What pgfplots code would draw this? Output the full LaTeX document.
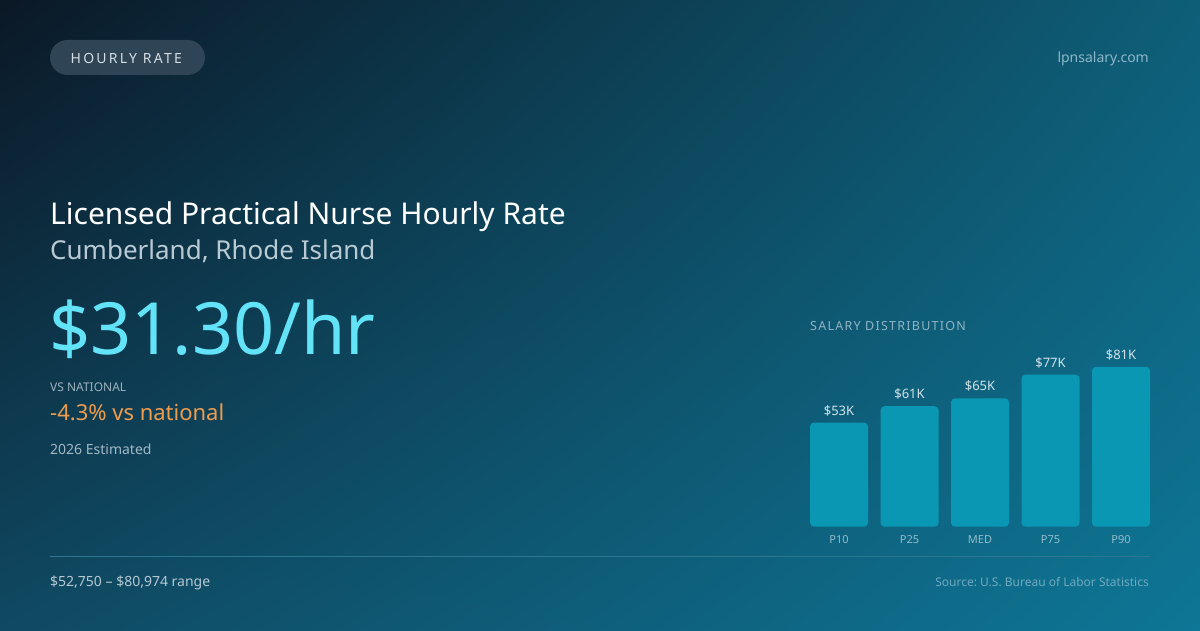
\documentclass[border=0pt]{standalone}
\usepackage{pgfplots}
\pgfplotsset{compat=1.18}
\usetikzlibrary{shadings}
\usepackage{fontspec}
\setmainfont{Noto Sans}
\newfontfamily\spaced[LetterSpace=16]{Noto Sans}
\newfontfamily\spacedsm[LetterSpace=10]{Noto Sans}
\frenchspacing

\definecolor{bgTL}{HTML}{0B1826}
\definecolor{bgTR}{HTML}{0E5E78}
\definecolor{bgBL}{HTML}{0F4962}
\definecolor{bgBR}{HTML}{0E7696}
\definecolor{pill}{HTML}{2F4454}
\definecolor{pilltext}{HTML}{D3DEE6}
\definecolor{site}{HTML}{8DB7C9}
\definecolor{subt}{HTML}{B9CAD5}
\definecolor{bignum}{HTML}{62E3F7}
\definecolor{smalllab}{HTML}{9DB2C0}
\definecolor{orangetxt}{HTML}{EE9C4E}
\definecolor{estim}{HTML}{A3B8C5}
\definecolor{rule}{HTML}{2D7690}
\definecolor{rangetxt}{HTML}{B5C8D3}
\definecolor{source}{HTML}{6FA9C0}
\definecolor{distlab}{HTML}{90B4C4}
\definecolor{barc}{HTML}{0A97B4}
\definecolor{barlab}{HTML}{D2E3EA}
\definecolor{ticklab}{HTML}{93BCCB}

\begin{document}
\begin{tikzpicture}[x=1pt,y=1pt]
% background
\shade[upper left=bgTL, upper right=bgTR, lower left=bgBL, lower right=bgBR]
  (0,0) rectangle (1200,630);
\clip (0,0) rectangle (1200,630);

% header
\fill[pill, rounded corners=17.5pt] (50,555) rectangle (205,590);
\node[anchor=base west, inner sep=0, text=pilltext, font=\spaced\fontsize{14}{16}\selectfont] at (70.5,566.7) {HOURLY RATE};
\node[anchor=base east, inner sep=0, text=site, font=\fontsize{14}{16}\selectfont] at (1149,567) {lpnsalary.com};

% left block
\node[anchor=base west, inner sep=0, text=white, font=\fontsize{30}{34}\selectfont] at (50,405.7) {Licensed Practical Nurse Hourly Rate};
\node[anchor=base west, inner sep=0, text=subt, font=\fontsize{26}{30}\selectfont] at (50,370) {Cumberland, Rhode Island};
\node[anchor=base west, inner sep=0, text=bignum, font=\fontsize{72}{80}\selectfont] at (49,275) {\$31.30/hr};
\node[anchor=base west, inner sep=0, text=smalllab, font=\fontsize{12}{14}\selectfont] at (50,238) {VS NATIONAL};
\node[anchor=base west, inner sep=0, text=orangetxt, font=\fontsize{22}{26}\selectfont] at (50,209) {-4.3\% vs national};
\node[anchor=base west, inner sep=0, text=estim, font=\fontsize{14}{16}\selectfont] at (50,175.7) {2026 Estimated};

% footer
\draw[rule, line width=1pt] (50,74) -- (1150,74);
\node[anchor=base west, inner sep=0, text=rangetxt, font=\fontsize{14}{16}\selectfont] at (50,44) {\$52,750 -- \$80,974 range};
\node[anchor=base east, inner sep=0, text=source, font=\fontsize{12}{14}\selectfont] at (1149,44) {Source: U.S. Bureau of Labor Statistics};

% chart
\node[anchor=base west, inner sep=0, text=distlab, font=\spacedsm\fontsize{12.5}{14}\selectfont] at (810,299.3) {SALARY DISTRIBUTION};

\begin{axis}[
    at={(803.75pt,103.3pt)}, anchor=south west,
    scale only axis,
    width=352.5pt, height=197.5pt,
    xmin=-0.5, xmax=4.5, ymin=0, ymax=100,
    axis line style={draw=none},
    major tick style={draw=none},
    ytick=\empty,
    xtick=data,
    xticklabels={P10,P25,MED,P75,P90},
    xticklabel style={anchor=base, yshift=-12.6pt, inner sep=0, text=ticklab, font=\fontsize{11}{13}\selectfont},
    ybar, bar width=58pt,
    nodes near coords={\$\pgfmathprintnumber[fixed,precision=0]{\pgfplotspointmeta}K},
    nodes near coords style={anchor=base, yshift=7.5pt, inner sep=0, text=barlab, font=\fontsize{13}{15}\selectfont},
    /pgf/number format/assume math mode=true,
    clip=false,
]
\addplot[fill=barc, draw=none, rounded corners=4pt] coordinates {
    (0,52.75) (1,61) (2,65) (3,77) (4,80.974)
};
\end{axis}
\end{tikzpicture}
\end{document}
